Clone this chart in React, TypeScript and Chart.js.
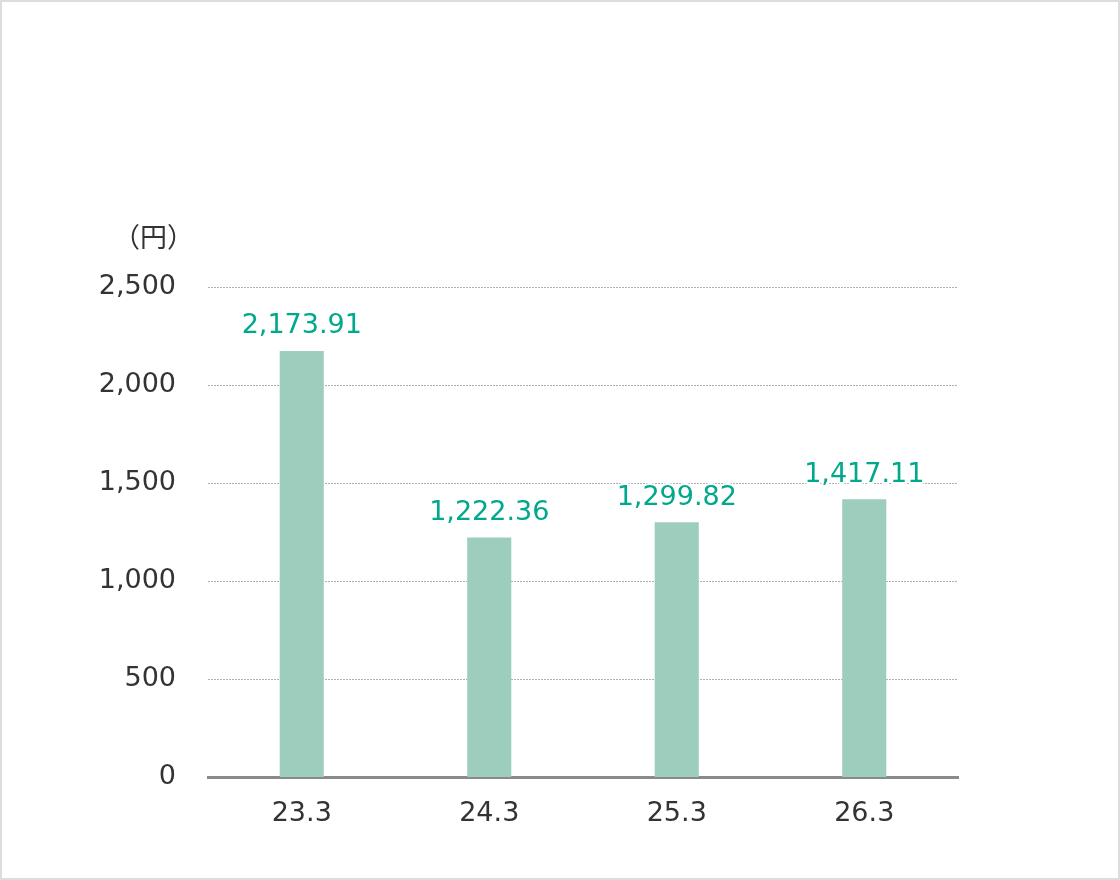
import React, { useEffect, useRef } from "react";
import { Chart, registerables } from "chart.js";

Chart.register(...registerables);

const categories = ["23.3", "24.3", "25.3", "26.3"];
const values = [2173.91, 1222.36, 1299.82, 1417.11];
const yTicks = [0, 500, 1000, 1500, 2000, 2500];
const unitLabel = "（円）";

const FONT = "'DejaVu Sans', Verdana, sans-serif";

const fmt = (v: number, digits: number) =>
  v.toLocaleString("en-US", { minimumFractionDigits: digits, maximumFractionDigits: digits });

// value labels above the bars, with a white halo over the grid lines
const valueLabels = {
  id: "valueLabels",
  afterDatasetsDraw(chart: any) {
    const ctx = chart.ctx;
    const meta = chart.getDatasetMeta(0);
    ctx.save();
    ctx.font = `27px ${FONT}`;
    ctx.textAlign = "center";
    ctx.textBaseline = "bottom";
    meta.data.forEach((bar: any, i: number) => {
      const text = fmt(values[i], 2);
      ctx.lineWidth = 4;
      ctx.strokeStyle = "#ffffff";
      ctx.lineJoin = "round";
      ctx.strokeText(text, bar.x, bar.y - 11);
      ctx.fillStyle = "#00a88c";
      ctx.fillText(text, bar.x, bar.y - 11);
    });
    // unit label over the y axis
    const area = chart.chartArea;
    ctx.font = `27px 'Noto Sans CJK JP', ${FONT}`;
    ctx.textAlign = "right";
    ctx.textBaseline = "middle";
    ctx.fillStyle = "#333333";
    ctx.fillText(unitLabel, area.left - 14, area.top - 50);
    ctx.restore();
  },
};

const App: React.FC = () => {
  const canvasRef = useRef<HTMLCanvasElement>(null);
  const chartRef = useRef<Chart | null>(null);

  useEffect(() => {
    document.body.style.margin = "0";
    if (!canvasRef.current) return;
    if (chartRef.current) chartRef.current.destroy();

    chartRef.current = new Chart(canvasRef.current, {
      type: "bar",
      data: {
        labels: categories,
        datasets: [
          {
            data: values,
            backgroundColor: "#9dcebd",
            barPercentage: 0.235,
            categoryPercentage: 1,
          },
        ],
      },
      options: {
        animation: false,
        responsive: true,
        maintainAspectRatio: false,
        layout: { padding: { top: 287, right: 162, left: 0, bottom: 0 } },
        plugins: {
          legend: { display: false },
          tooltip: { enabled: false },
        },
        scales: {
          x: {
            grid: { display: false },
            border: { display: true, color: "#8a8a8a", width: 3 },
            ticks: {
              color: "#333333",
              font: { family: FONT, size: 27 },
              padding: 13,
            },
            afterFit: (scale: any) => {
              scale.height = 103;
            },
          },
          y: {
            min: 0,
            max: 2500,
            grid: {
              color: "#b0b0b0",
              lineWidth: (ctx: any) => (ctx.tick && ctx.tick.value === 0 ? 0 : 1),
              drawTicks: false,
            },
            border: { display: false, dash: [2, 1] },
            afterBuildTicks: (axis: any) => {
              axis.ticks = yTicks.map((v) => ({ value: v }));
            },
            ticks: {
              color: "#333333",
              font: { family: FONT, size: 27 },
              padding: 32,
              callback: (v: any) => fmt(Number(v), 0),
            },
            afterFit: (scale: any) => {
              scale.width = 208;
            },
          },
        },
      },
      plugins: [valueLabels],
    });

    return () => {
      if (chartRef.current) {
        chartRef.current.destroy();
        chartRef.current = null;
      }
    };
  }, []);

  return (
    <div style={{ position: "relative", width: 1120, height: 880, background: "#fff" }}>
      <div style={{ position: "absolute", left: 0, top: 0, width: 1120, height: 880 }}>
        <canvas ref={canvasRef}></canvas>
      </div>
      <div
        style={{
          position: "absolute",
          inset: 0,
          border: "2px solid #dddddd",
          pointerEvents: "none",
        }}
      ></div>
    </div>
  );
};

export default App;
